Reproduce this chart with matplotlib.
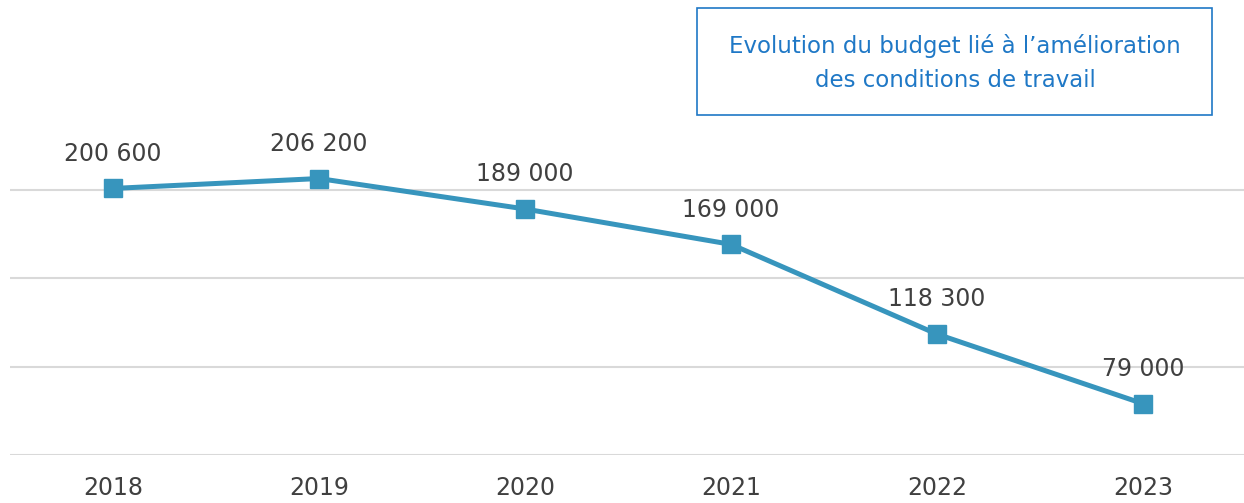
import matplotlib.pyplot as plt
from matplotlib.patches import Rectangle

years = ['2018', '2019', '2020', '2021', '2022', '2023']
budget = [200600, 206200, 189000, 169000, 118300, 79000]
labels = ['200 600', '206 200', '189 000', '169 000', '118 300', '79 000']
title = "Evolution du budget lié à l\u2019amélioration\ndes conditions de travail"

line_col = '#3795bd'
text_col = '#404040'
blue = '#1f78c6'

fig = plt.figure(figsize=(12.44, 5.03), dpi=100)
ax = fig.add_axes([10/1244, 48/503, 1236/1244, 445/503])

x = range(len(years))
ax.plot(x, budget, color=line_col, lw=3.6, marker='s', ms=13, zorder=3)
for i in x:
  ax.annotate(labels[i], (i, budget[i]), xytext=(0, 25), textcoords='offset points',
              ha='center', va='center', fontsize=17, color=text_col)

ax.set_xlim(-0.5, 5.5)
ax.set_ylim(50000, 50000 + 445 / 88.5 * 50000)
ax.set_yticks([50000, 100000, 150000, 200000])
ax.set_yticklabels([])
ax.set_xticks(list(x))
ax.set_xticklabels(years, fontsize=17, color=text_col)
ax.tick_params(axis='both', length=0, pad=15)
ax.grid(axis='y', color='#d9d9d9', lw=1.5)
ax.set_axisbelow(True)
for s in ax.spines.values():
  s.set_visible(False)

fig.patches.append(Rectangle((697/1244, 1-115/503), 515/1244, 107/503, transform=fig.transFigure,
                             fill=False, edgecolor=blue, lw=1.2))
fig.text(955/1244, 1-63/503, title, ha='center', va='center', fontsize=16.5, color=blue, linespacing=1.65)

fig.savefig('out.png', dpi=100)
